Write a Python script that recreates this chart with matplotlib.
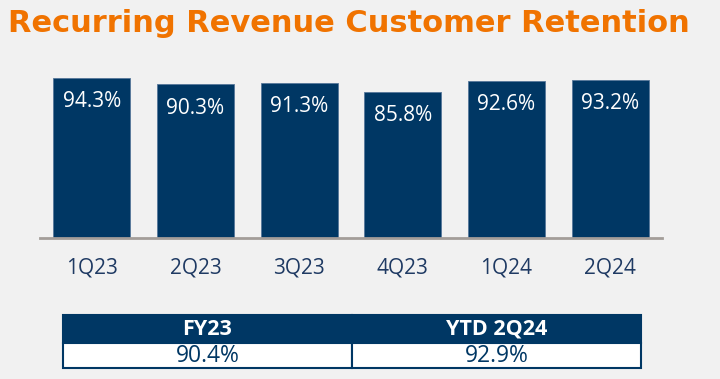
import matplotlib.pyplot as plt

# data
quarters = ['1Q23', '2Q23', '3Q23', '4Q23', '1Q24', '2Q24']
retention = [94.3, 90.3, 91.3, 85.8, 92.6, 93.2]
table_headers = ['FY23', 'YTD 2Q24']
table_values = ['90.4%', '92.9%']

navy = '#003764'
orange = '#f07300'
bg = '#f1f1f1'
tick_col = '#1f3a63'

plt.rcParams['font.family'] = ['Open Sans', 'DejaVu Sans']

W, H = 720, 379
fig = plt.figure(figsize=(W / 100, H / 100), dpi=100)
fig.patch.set_facecolor(bg)

# title
fig.text(8 / W, 1 - 23 / H, 'Recurring Revenue Customer Retention',
         color=orange, fontsize=22, fontweight='bold', va='center', ha='left',
         family='DejaVu Sans')

# bar chart, placed in pixel coords
ax = fig.add_axes([40 / W, (H - 238) / H, 622 / W, 170 / H])
ax.set_facecolor(bg)
x = range(len(quarters))
ax.bar(x, retention, width=0.74, color=navy, edgecolor='#56779a', linewidth=0.6)
for i, v in enumerate(retention):
    ax.annotate('{:.1f}%'.format(v), (i, v), xytext=(0, -17), textcoords='offset points',
                ha='center', va='center', color='white', fontsize=15)
ax.set_xlim(-0.5, len(quarters) - 0.5)
ax.set_ylim(0, 100)
ax.set_xticks(list(x))
ax.set_xticklabels(quarters, fontsize=15, color=tick_col)
ax.tick_params(axis='x', length=0, pad=14)
ax.set_yticks([])
for s in ['top', 'right', 'left']:
    ax.spines[s].set_visible(False)
ax.spines['bottom'].set_color('#a39d99')
ax.spines['bottom'].set_linewidth(2)

# summary table
tax = fig.add_axes([63 / W, (H - 368) / H, 578 / W, 53 / H])
tax.axis('off')
tbl = tax.table(cellText=[table_headers, table_values], cellLoc='center', bbox=[0, 0, 1, 1])
tbl.auto_set_font_size(False)
for (r, c), cell in tbl.get_celld().items():
    cell.set_edgecolor(navy)
    cell.set_linewidth(1.5)
    if r == 0:
        cell.set_facecolor(navy)
        cell.set_height(0.53)
        cell.set_text_props(color='white', fontweight='bold', fontsize=15.5)
    else:
        cell.set_facecolor('white')
        cell.set_height(0.47)
        cell.set_text_props(color=navy, fontsize=16.5)

fig.savefig('out.png', dpi=100, facecolor=bg)
